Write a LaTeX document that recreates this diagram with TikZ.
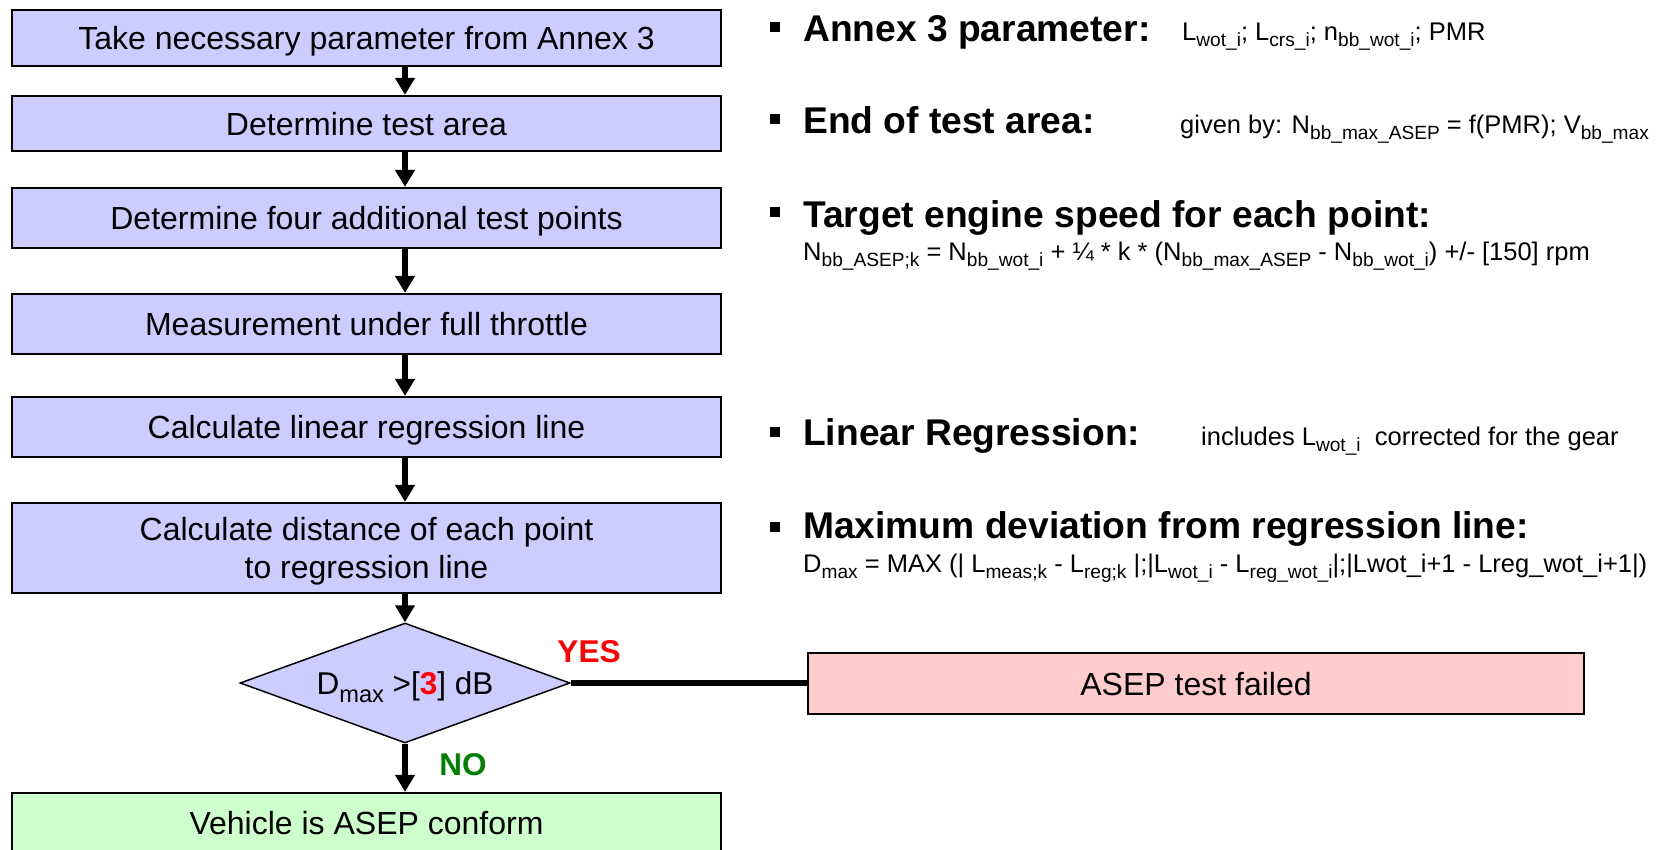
\documentclass[tikz,border=0pt]{standalone}
\usepackage{fontspec}
\usepackage{graphicx}
\setmainfont{Liberation Sans}
\usetikzlibrary{shapes.geometric,arrows.meta,calc}
\definecolor{boxblue}{RGB}{204,204,255}
\definecolor{okgreen}{RGB}{204,255,204}
\definecolor{failred}{RGB}{255,204,204}
\definecolor{notext}{RGB}{0,128,0}
\definecolor{yestext}{RGB}{255,0,0}
\newcommand\sbs[1]{\raisebox{-0.26em}{\scalebox{0.75}{#1}}}
\begin{document}
\begin{tikzpicture}[x=1pt,y=-1pt,
  stepbox/.style={draw=black, line width=2.2pt, fill=boxblue, minimum width=709pt, inner sep=0pt,
    font=\fontsize{32}{38}\selectfont, align=center, text depth=0pt},
  decision/.style={diamond, draw=black, line width=1.5pt, fill=boxblue, aspect=2.75,
    minimum width=330pt, minimum height=120pt, inner sep=0pt, text height=23pt, text depth=0pt,
    font=\fontsize{31.5}{36}\selectfont},
  conn/.style={line width=6pt, -{Triangle[width=19pt,length=17pt]}},
  link/.style={line width=6.5pt},
  answer/.style={inner sep=0pt, font=\bfseries\fontsize{31.5}{31.5}\selectfont},
  head/.style={anchor=base west, inner sep=0pt, font=\bfseries\fontsize{37.2}{40}\selectfont},
  note/.style={anchor=base west, inner sep=0pt, font=\fontsize{25.5}{30}\selectfont},
  bullet/.style={fill=black, minimum size=10pt, inner sep=0pt}]
\path[use as bounding box, clip] (0,0) rectangle (1670,849);

% flow chart
\node[stepbox, minimum height=56pt] (b1) at (366.5,38) {Take necessary parameter from Annex 3};
\node[stepbox, minimum height=55pt] (b2) at (366.5,123.5) {Determine test area};
\node[stepbox, minimum height=60pt] (b3) at (366.5,218) {Determine four additional test points};
\node[stepbox, minimum height=60pt] (b4) at (366.5,324) {Measurement under full throttle};
\node[stepbox, minimum height=60pt] (b5) at (366.5,427) {Calculate linear regression line};
\node[stepbox, minimum height=90pt] (b6) at (366.5,548) {Calculate distance of each point\\to regression line};
\node[decision] (d) at (405,683) {D\sbs{max} >[\textcolor{yestext}{\bfseries 3}] dB};
\node[stepbox, fill=okgreen, minimum height=60pt] (ok) at (366.5,823) {Vehicle is ASEP conform};
\node[stepbox, fill=failred, minimum width=776pt, minimum height=61pt] (fail) at (1196,683.5) {ASEP test failed};

\draw[conn] (b1.south -| d.north) -- (b2.north -| d.north);
\draw[conn] (b2.south -| d.north) -- (b3.north -| d.north);
\draw[conn] (b3.south -| d.north) -- (b4.north -| d.north);
\draw[conn] (b4.south -| d.north) -- (b5.north -| d.north);
\draw[conn] (b5.south -| d.north) -- (b6.north -| d.north);
\draw[conn] (b6.south -| d.north) -- (d.north);
\draw[conn] (d.south) -- (ok.north -| d.south);
\draw[link] (d.east) -- (d.east -| fail.west);

\node[answer, text=yestext] (yes) at (589,652) {YES};
\node[answer, text=notext] (no) at (463,765) {NO};

% notes
\node[bullet] (p1) at (775,27) {};
\node[head] (h1) at (803,41) {Annex 3 parameter:};
\node[note] (t1) at (1182,40) {L\sbs{wot\_i}; L\sbs{crs\_i}; n\sbs{bb\_wot\_i}; PMR};
\node[bullet] (p2) at (775,118.5) {};
\node[head] (h2) at (803,133) {End of test area:};
\node[note] (t2) at (1180,133) {given by: N\sbs{bb\_max\_ASEP} = f(PMR); V\sbs{bb\_max}};
\node[bullet] (p3) at (775,212) {};
\node[head] (h3) at (803,227) {Target engine speed for each point:};
\node[note] (t3) at (803,260) {N\sbs{bb\_ASEP;k} = N\sbs{bb\_wot\_i} + ¼ * k * (N\sbs{bb\_max\_ASEP} - N\sbs{bb\_wot\_i}) +/- [150] rpm};
\node[bullet] (p4) at (775,432) {};
\node[head] (h4) at (803,445) {Linear Regression:};
\node[note] (t4) at (1201,445) {includes L\sbs{wot\_i}\ \ corrected for the gear};
\node[bullet] (p5) at (775,527) {};
\node[head] (h5) at (803,538) {Maximum deviation from regression line:};
\node[note] (t5) at (803,572) {D\sbs{max} = MAX (| L\sbs{meas;k} - L\sbs{reg;k} |;|L\sbs{wot\_i} - L\sbs{reg\_wot\_i}|;|Lwot\_i+1 - Lreg\_wot\_i+1|)};
\end{tikzpicture}
\end{document}
